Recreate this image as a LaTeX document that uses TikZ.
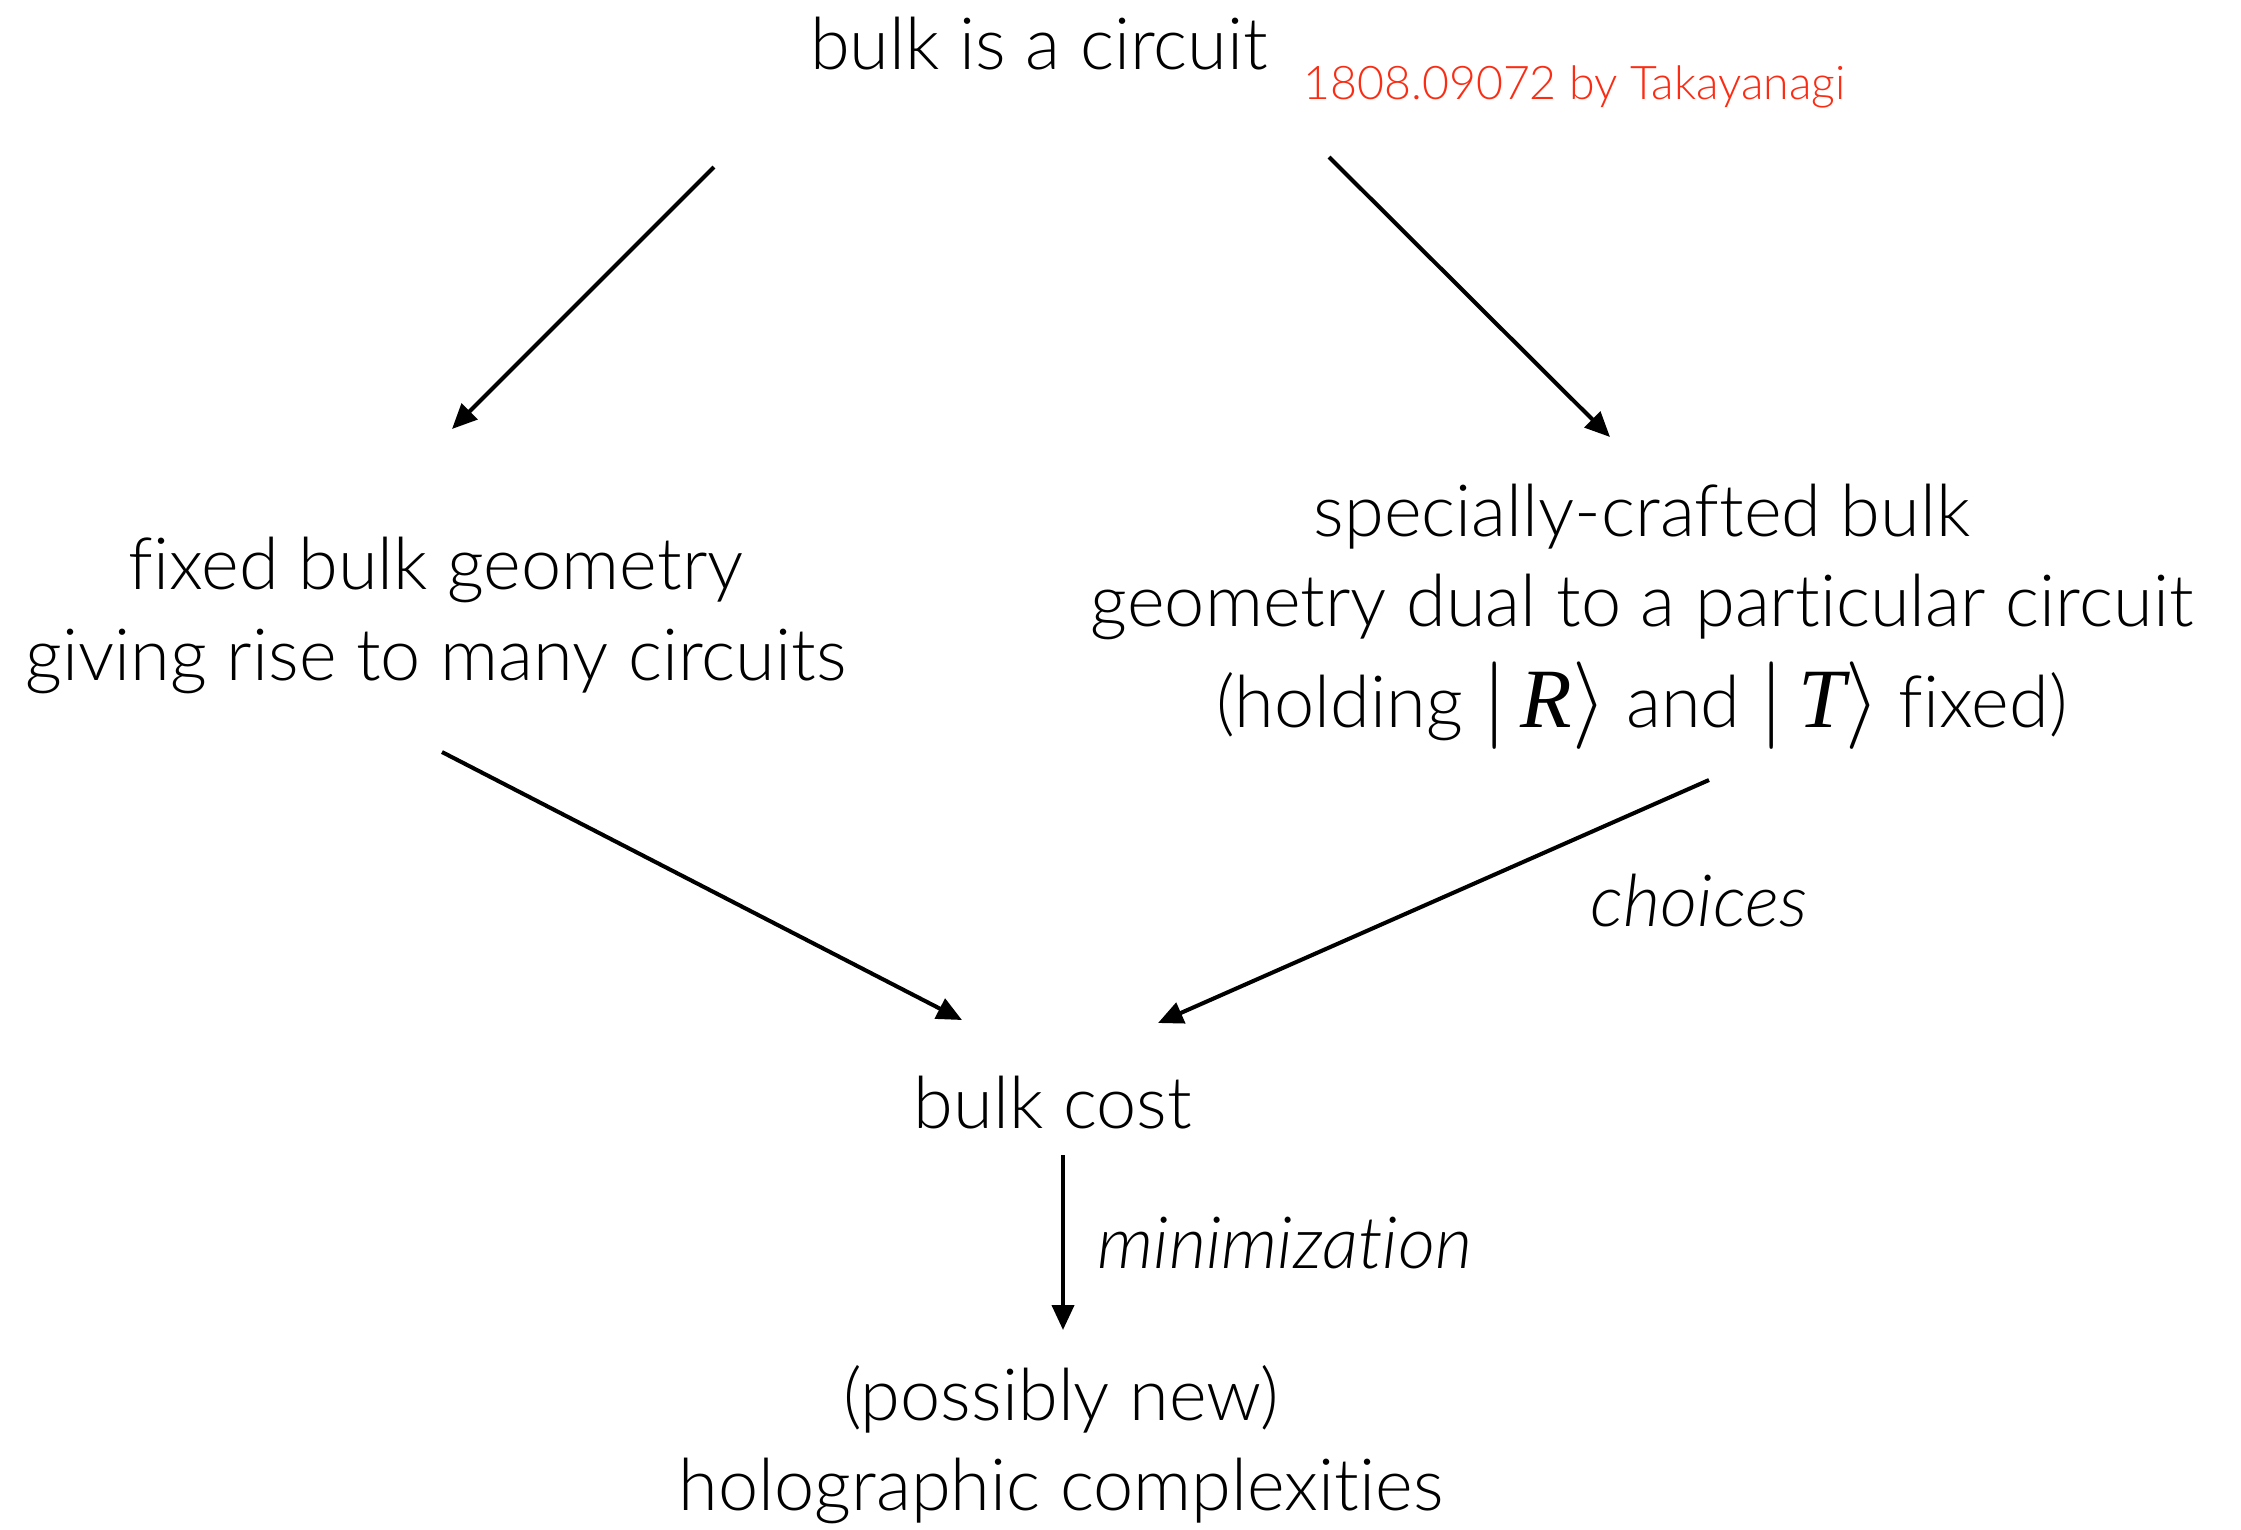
\documentclass[tikz,border=0pt]{standalone}
\usepackage{fontspec}
\IfFontExistsTF{Lato Light}
  {\setmainfont{Lato Light}[ItalicFont={Lato Light Italic}, Ligatures=CommonOff]}
  {\setmainfont{Lato}[Ligatures=CommonOff]}
\newfontfamily\ketserif{Liberation Serif}
\usetikzlibrary{arrows.meta}
\definecolor{refred}{RGB}{250,45,20}
% a ket |X> with a serif italic letter, set a little larger than the text
\newcommand{\ketlbl}[1]{{\fontsize{24}{25.6}\selectfont$|$\,{\ketserif\itshape #1}$\rangle$}}
\tikzset{
  lbl/.style={anchor=base, inner sep=0pt, font=\fontsize{20.5}{25.6}\selectfont, align=center},
  note/.style={anchor=base west, inner sep=0pt, font=\fontsize{20.5}{25.6}\selectfont\itshape},
  cite/.style={anchor=base west, inner sep=0pt, text=refred, font=\fontsize{13.2}{16}\selectfont},
  flow/.style={line width=1.15pt, -{Triangle[length=2.5mm,width=2.2mm]}}
}
\begin{document}
\begin{tikzpicture}[x=0.01cm, y=-0.01cm]
  \useasboundingbox (0,0) rectangle (2241,1529);

  % statements (multi-line nodes sit on the baseline of their last line)
  \node[lbl] (top)   at (1039,69)   {bulk is a circuit};
  \node[cite] (ref)  at (1303,99)   {1808.09072 by Takayanagi};
  \node[lbl] (fixed) at (436,680)   {fixed bulk geometry\\giving rise to many circuits};
  \node[lbl] (craft) at (1642,727)  {specially-crafted bulk\\geometry dual to a particular circuit\\[3pt](holding \ketlbl{R} and \ketlbl{T} fixed)};
  \node[lbl] (cost)  at (1053,1128) {bulk cost};
  \node[lbl] (holo)  at (1061,1510) {(possibly new)\\holographic complexities};

  % arrow labels
  \node[note] (choices) at (1590,926)  {choices};
  \node[note] (minim)   at (1097,1268) {minimization};

  % arrow ends
  \coordinate (top-l)   at (714,167);
  \coordinate (fixed-t) at (452,429);
  \coordinate (top-r)   at (1329,157);
  \coordinate (craft-t) at (1610,437);
  \coordinate (fixed-b) at (442,752);
  \coordinate (cost-l)  at (962,1020);
  \coordinate (craft-b) at (1709,780);
  \coordinate (cost-r)  at (1158,1023);
  \coordinate (cost-b)  at (1063,1155);
  \coordinate (holo-t)  at (1063,1330);

  \draw[flow] (top-l) -- (fixed-t);
  \draw[flow] (top-r) -- (craft-t);
  \draw[flow] (fixed-b) -- (cost-l);
  \draw[flow] (craft-b) -- (cost-r);
  \draw[flow] (cost-b) -- (holo-t);
\end{tikzpicture}
\end{document}
